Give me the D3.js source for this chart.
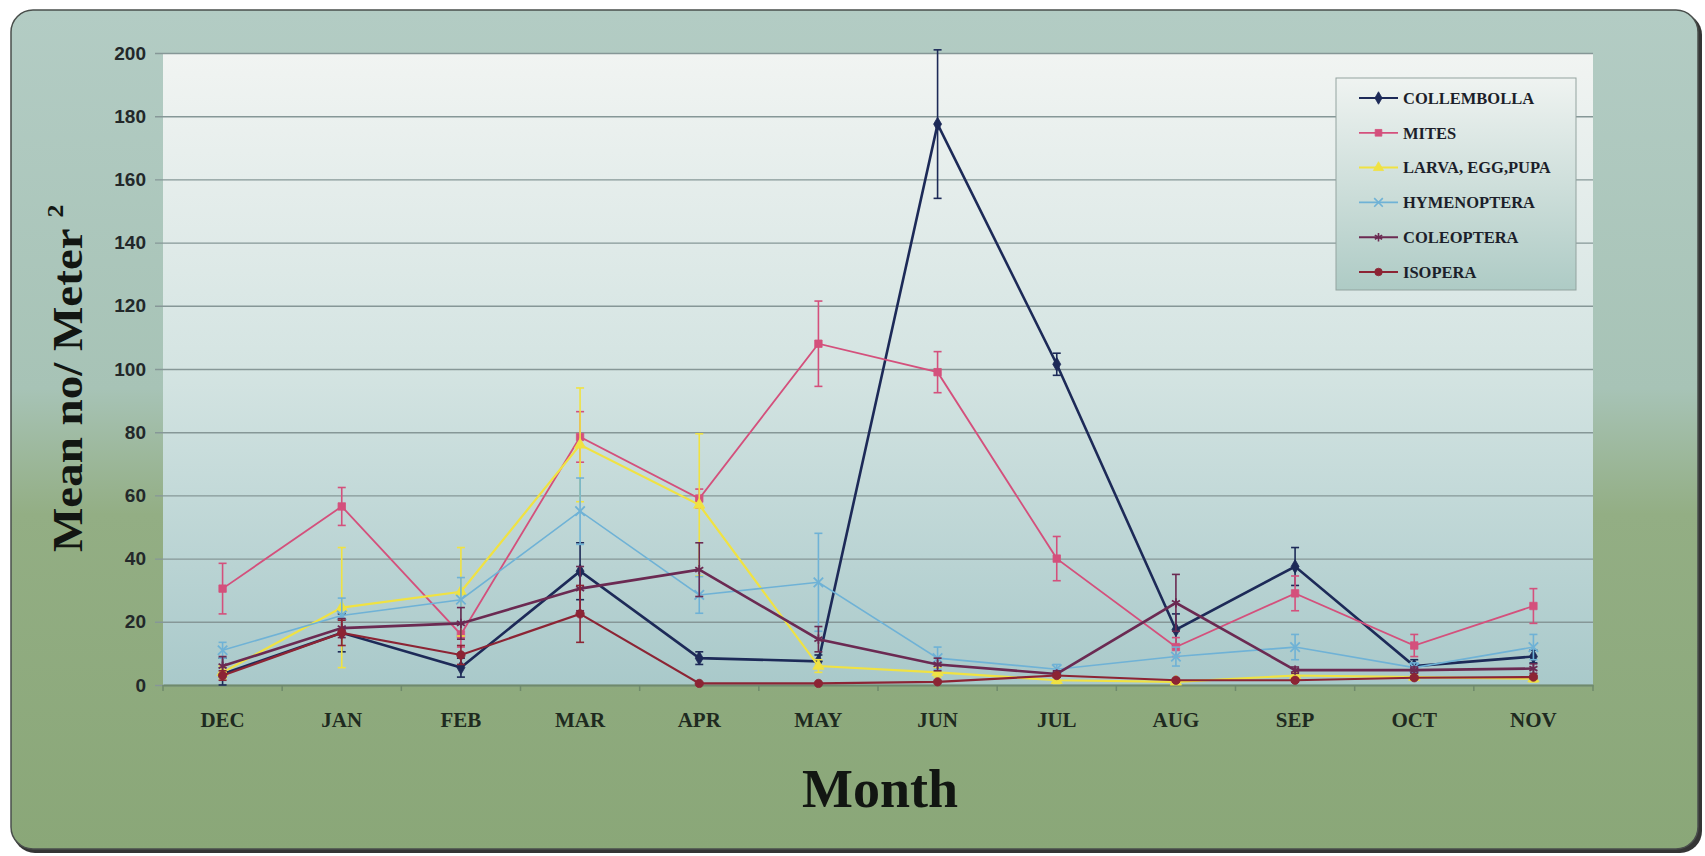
<!DOCTYPE html>
<html>
<head>
<meta charset="utf-8">
<script src="https://cdn.jsdelivr.net/npm/d3@7"></script>
<style>
  body { margin: 0; background: #ffffff; }
  svg { display: block; }
  .yaxis text { font-family: "Liberation Sans", Arial, sans-serif; font-weight: bold; font-size: 19px; fill: #23282a; }
  .xaxis text { font-family: "Liberation Serif", "Times New Roman", serif; font-weight: bold; font-size: 21px; fill: #1e2a20; }
  .legend text { font-family: "Liberation Serif", "Times New Roman", serif; font-weight: bold; font-size: 16.5px; fill: #1c1f2a; }
</style>
</head>
<body>
<script>
// months on the x axis
var months = ["DEC", "JAN", "FEB", "MAR", "APR", "MAY", "JUN", "JUL", "AUG", "SEP", "OCT", "NOV"];
var yTicks = [0, 20, 40, 60, 80, 100, 120, 140, 160, 180, 200];

// mean no / m2 and the error bar half width
var collembolla     = [3.5, 16.5, 5.5, 36, 8.5, 7.5, 177.5, 101.5, 17.5, 37.5, 6, 9];
var collembollaErr  = [5, 6, 3, 9, 2, 2, 23.5, 3.5, 5, 6, 2, 2];
var mites           = [30.5, 56.5, 16, 78.5, 59, 108, 99, 40, 12, 29, 12.5, 25];
var mitesErr        = [8, 6, 4, 8, 3, 13.5, 6.5, 7, 3, 5.5, 3.5, 5.5];
var larva           = [4, 24.5, 29.5, 76, 57, 6, 4, 1.5, 1, 3, 2.5, 2];
var larvaErr        = [2, 19, 14, 18, 22.5, 2, 1.5, 1, 0.5, 1, 1, 1];
var hymenoptera     = [11, 22, 27, 55, 28.5, 32.5, 8.5, 5, 9, 12, 5.5, 12];
var hymenopteraErr  = [2.5, 5.5, 7, 10.5, 5.8, 15.5, 3.5, 1.5, 3, 4, 1.5, 4];
var coleoptera      = [6, 18, 19.5, 30.5, 36.5, 14.5, 6.5, 3.5, 26, 4.7, 4.7, 5.2];
var coleopteraErr   = [3, 3, 5, 7, 8.5, 4, 2, 1, 9, 1, 1, 1.5];
var isopera         = [3, 16.5, 9.5, 22.5, 0.5, 0.5, 1, 3, 1.5, 1.5, 2.3, 2.5];
var isoperaErr      = [1.5, 4, 3, 9, 0, 0, 0, 0.5, 0.5, 0.5, 0.5, 0.5];

var seriesNames = ["COLLEMBOLLA", "MITES", "LARVA, EGG,PUPA", "HYMENOPTERA", "COLEOPTERA", "ISOPERA"];


function buildSeries() {
  var values = [collembolla, mites, larva, hymenoptera, coleoptera, isopera];
  var errors = [collembollaErr, mitesErr, larvaErr, hymenopteraErr, coleopteraErr, isoperaErr];
  var colors = ["#1d2a58", "#d4507c", "#f0e242", "#6fb2d6", "#6b2a52", "#8c2434"];
  var widths = [2.6, 1.8, 2.2, 1.6, 2.6, 2.2];
  var symbols = [d3.symbolDiamond, d3.symbolSquare, d3.symbolTriangle,
                 d3.symbolTimes || d3.symbolCross, d3.symbolAsterisk || d3.symbolCross, d3.symbolCircle];
  var stroked = [false, false, false, true, true, false];

  return seriesNames.map(function(name, i) {
    return {
      name: name,
      color: colors[i],
      width: widths[i],
      symbol: symbols[i],
      stroked: stroked[i],
      points: months.map(function(m, j) {
        return {month: m, value: values[i][j], err: errors[i][j]};
      })
    };
  });
}

function makeChart() {
  const width = 1705;
  const height = 856;
  const plot = {left: 163, right: 1593, top: 53, bottom: 685};

  var series = buildSeries();

  const svg = d3.select("body")
                .append("svg")
                .attr("width", width)
                .attr("height", height);

  var defs = svg.append("defs");

  var frameGrad = defs.append("linearGradient")
                      .attr("id", "frameGrad")
                      .attr("gradientUnits", "userSpaceOnUse")
                      .attr("x1", 0).attr("y1", 10).attr("x2", 0).attr("y2", 851);
  [[0, "#b3ccc4"], [0.45, "#a7c3b6"], [0.6, "#93ae84"], [1, "#8aa778"]].forEach(function(s) {
    frameGrad.append("stop").attr("offset", s[0]).attr("stop-color", s[1]);
  });

  var plotGrad = defs.append("linearGradient")
                     .attr("id", "plotGrad")
                     .attr("x1", 0).attr("y1", 0).attr("x2", 0).attr("y2", 1);
  [[0, "#f1f4f2"], [0.5, "#d4e4e2"], [1, "#a9c9ca"]].forEach(function(s) {
    plotGrad.append("stop").attr("offset", s[0]).attr("stop-color", s[1]);
  });

  var legendGrad = defs.append("linearGradient")
                       .attr("id", "legendGrad")
                       .attr("x1", 0).attr("y1", 0).attr("x2", 0).attr("y2", 1);
  [[0, "#eff3f1"], [1, "#aecbc5"]].forEach(function(s) {
    legendGrad.append("stop").attr("offset", s[0]).attr("stop-color", s[1]);
  });

  // frame with shadow
  svg.append("rect")
     .attr("x", 13).attr("y", 13)
     .attr("width", 1689).attr("height", 840)
     .attr("rx", 22)
     .attr("fill", "#353535");
  svg.append("rect")
     .attr("x", 11).attr("y", 10)
     .attr("width", 1687).attr("height", 839)
     .attr("rx", 22)
     .attr("fill", "url(#frameGrad)")
     .attr("stroke", "#4a4f4c")
     .attr("stroke-width", 1.5);

  svg.append("rect")
     .attr("x", plot.left).attr("y", plot.top)
     .attr("width", plot.right - plot.left)
     .attr("height", plot.bottom - plot.top)
     .attr("fill", "url(#plotGrad)");

  // scales
  let xAxis = d3.scaleBand()
                .domain(months)
                .range([plot.left, plot.right]);
  let yAxis = d3.scaleLinear()
                .domain([0, 200])
                .range([plot.bottom, plot.top]);
  let xMid = function(d) { return xAxis(d.month) + xAxis.bandwidth() / 2; };

  // y axis with gridlines
  svg.append("g")
     .attr("class", "yaxis")
     .attr("transform", "translate(" + (plot.left - 8) + ",0)")
     .call(d3.axisLeft(yAxis)
             .tickValues(yTicks)
             .tickSize(-(plot.right - plot.left + 8))
             .tickPadding(9))
     .call(function(g) {
       g.select(".domain").remove();
       g.selectAll(".tick line").attr("stroke", "#869797").attr("stroke-width", 1.4);
     });

  // x axis
  svg.append("g")
     .attr("class", "xaxis")
     .attr("transform", "translate(0," + plot.bottom + ")")
     .call(d3.axisBottom(xAxis).tickSize(0).tickSizeOuter(0).tickPadding(27))
     .call(function(g) {
       g.select(".domain").attr("stroke", "#6f8a6c").attr("stroke-width", 2);
     });

  // tick marks between the months
  var bounds = months.map(function(m) { return xAxis(m); }).concat([xAxis.range()[1]]);
  svg.append("g")
     .selectAll("line")
     .data(bounds)
     .enter().append("line")
       .attr("x1", function(d) { return d; })
       .attr("x2", function(d) { return d; })
       .attr("y1", plot.bottom)
       .attr("y2", plot.bottom + 6)
       .attr("stroke", "#6f8a6c")
       .attr("stroke-width", 1.5);

  var line = d3.line()
               .x(xMid)
               .y(function(d) { return yAxis(d.value); });

  series.forEach(function(s) {
    var g = svg.append("g").attr("class", "series");

    // error bars
    var eb = g.selectAll(".err")
              .data(s.points.filter(function(d) { return d.err > 0; }))
              .enter().append("g")
              .attr("stroke", s.color)
              .attr("stroke-width", 1.6);
    eb.append("line")
      .attr("x1", xMid).attr("x2", xMid)
      .attr("y1", function(d) { return yAxis(d.value + d.err); })
      .attr("y2", function(d) { return yAxis(Math.max(0, d.value - d.err)); });
    eb.append("line")
      .attr("x1", function(d) { return xMid(d) - 4; })
      .attr("x2", function(d) { return xMid(d) + 4; })
      .attr("y1", function(d) { return yAxis(d.value + d.err); })
      .attr("y2", function(d) { return yAxis(d.value + d.err); });
    eb.append("line")
      .attr("x1", function(d) { return xMid(d) - 4; })
      .attr("x2", function(d) { return xMid(d) + 4; })
      .attr("y1", function(d) { return yAxis(Math.max(0, d.value - d.err)); })
      .attr("y2", function(d) { return yAxis(Math.max(0, d.value - d.err)); });

    g.append("path")
     .datum(s.points)
     .attr("d", line)
     .attr("fill", "none")
     .attr("stroke", s.color)
     .attr("stroke-width", s.width);

    g.selectAll(".mark")
     .data(s.points)
     .enter().append("path")
       .attr("class", "mark")
       .attr("transform", function(d) { return "translate(" + xMid(d) + "," + yAxis(d.value) + ")"; })
       .attr("d", d3.symbol().type(s.symbol).size(s.stroked ? 60 : 55))
       .attr("fill", s.stroked ? "none" : s.color)
       .attr("stroke", s.color)
       .attr("stroke-width", s.stroked ? 1.8 : 0.8);
  });

  // legend
  var legend = svg.append("g").attr("class", "legend");
  legend.append("rect")
        .attr("x", 1336).attr("y", 78)
        .attr("width", 240).attr("height", 212)
        .attr("fill", "url(#legendGrad)")
        .attr("stroke", "#93a39f")
        .attr("stroke-width", 1);

  var item = legend.selectAll(".item")
                   .data(series)
                   .enter().append("g")
                   .attr("class", "item")
                   .attr("transform", function(d, i) { return "translate(1359," + (98 + i * 34.8) + ")"; });
  item.append("line")
      .attr("x1", 0).attr("x2", 39)
      .attr("stroke", function(d) { return d.color; })
      .attr("stroke-width", function(d) { return Math.min(d.width, 2); });
  item.append("path")
      .attr("transform", "translate(19.5,0)")
      .attr("d", function(d) { return d3.symbol().type(d.symbol).size(d.stroked ? 50 : 45)(); })
      .attr("fill", function(d) { return d.stroked ? "none" : d.color; })
      .attr("stroke", function(d) { return d.color; })
      .attr("stroke-width", function(d) { return d.stroked ? 1.6 : 0.8; });
  item.append("text")
      .attr("x", 44)
      .attr("dy", "0.35em")
      .text(function(d) { return d.name; });

  // axis titles
  svg.append("text")
     .attr("x", 880)
     .attr("y", 807)
     .attr("text-anchor", "middle")
     .attr("font-family", "'Liberation Serif', 'Times New Roman', serif")
     .attr("font-weight", "bold")
     .attr("font-size", 54)
     .attr("fill", "#121612")
     .text("Month");

  var ytitle = svg.append("text")
                  .attr("transform", "translate(82,552) rotate(-90) scale(1,0.9)")
                  .attr("font-family", "'Liberation Serif', 'Times New Roman', serif")
                  .attr("font-weight", "bold")
                  .attr("font-size", 47)
                  .attr("fill", "#121612");
  ytitle.append("tspan").text("Mean no/ Meter ");
  ytitle.append("tspan")
        .attr("font-size", 26)
        .attr("dy", -21)
        .text("2");
}

window.onload = function() {
  makeChart();
};
</script>
</body>
</html>
